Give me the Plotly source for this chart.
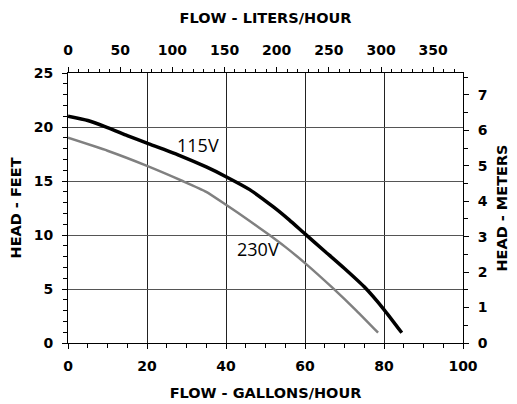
import plotly.graph_objects as go

# Data (flow in gallons/hour, head in feet)
gph_115 = [0, 5, 10, 15, 20, 28, 35, 40, 46, 52, 56, 60, 65, 70, 75, 80, 84.5]
head_115 = [21.0, 20.6, 19.95, 19.2, 18.5, 17.4, 16.3, 15.4, 14.2, 12.6, 11.4, 10.1, 8.5, 6.9, 5.2, 3.1, 0.95]
gph_230 = [0, 10, 20, 29, 35, 40, 46, 51, 55, 60, 67, 73, 78.5]
head_230 = [19.0, 17.8, 16.4, 15.0, 14.0, 12.8, 11.3, 10.0, 8.9, 7.4, 5.1, 3.0, 0.95]
series_names = ["115V", "230V"]
label_pos = [(33, 18.3), (48.2, 8.7)]

GAL_TO_L = 3.78541
FT_TO_M = 0.3048
x_max_gph = 100
y_max_ft = 25

FAM = "DejaVu Sans, Verdana, sans-serif"
tickf = dict(family=FAM, size=14, color="black", weight="bold")
titlef = dict(family=FAM, size=14.5, color="black", weight="bold")

fig = go.Figure()
fig.add_trace(go.Scatter(x=gph_115, y=head_115, mode="lines",
                         line=dict(color="black", width=3.5, shape="spline", smoothing=0.5),
                         name=series_names[0]))
fig.add_trace(go.Scatter(x=gph_230, y=head_230, mode="lines",
                         line=dict(color="#808080", width=2.5, shape="spline", smoothing=0.5),
                         name=series_names[1]))
# invisible helper trace for the secondary axes
fig.add_trace(go.Scatter(x=[0, x_max_gph * GAL_TO_L], y=[0, y_max_ft * FT_TO_M], xaxis="x2", yaxis="y2",
                         mode="markers", marker=dict(opacity=0), hoverinfo="skip", showlegend=False))

for name, (lx, ly) in zip(series_names, label_pos):
    fig.add_annotation(x=lx, y=ly, text=name, showarrow=False,
                       font=dict(family="Open Sans, sans-serif", size=18, color="black"))

fig.update_layout(
    width=509, height=396,
    margin=dict(l=60, r=54, t=65, b=61),
    paper_bgcolor="white", plot_bgcolor="white",
    showlegend=False,
    xaxis=dict(range=[0, x_max_gph], dtick=20, tick0=0, ticks="outside", ticklen=5, tickcolor="black",
               showgrid=True, gridcolor="#222", gridwidth=1, zeroline=False, automargin=False,
               showline=True, linecolor="black", linewidth=1,
               tickfont=tickf, ticklabelstandoff=5,
               minor=dict(dtick=5, ticks="outside", ticklen=4, tickcolor="black", showgrid=False),
               title=dict(text="FLOW - GALLONS/HOUR", font=titlef, standoff=15)),
    xaxis2=dict(range=[0, x_max_gph * GAL_TO_L], overlaying="x", side="top", anchor="y",
                dtick=50, tick0=0, ticks="outside", ticklen=5, tickcolor="black", automargin=False,
                showgrid=False, zeroline=False, showline=True, linecolor="black", linewidth=1,
                tickfont=tickf, ticklabelstandoff=6,
                minor=dict(dtick=10, ticks="outside", ticklen=3, tickcolor="black", showgrid=False),
                title=dict(text="FLOW - LITERS/HOUR", font=titlef, standoff=15)),
    yaxis=dict(range=[0, y_max_ft], dtick=5, tick0=0, ticks="outside", ticklen=5, tickcolor="black",
               showgrid=True, gridcolor="#555", gridwidth=1, zeroline=False, automargin=False,
               showline=True, linecolor="black", linewidth=1,
               tickfont=tickf, ticklabelstandoff=6,
               minor=dict(dtick=1, ticks="outside", ticklen=4, tickcolor="black", showgrid=False),
               title=dict(text="HEAD - FEET", font=titlef, standoff=17)),
    yaxis2=dict(range=[0, y_max_ft * FT_TO_M], overlaying="y", side="right", anchor="x",
                dtick=1, tick0=0, ticks="outside", ticklen=5, tickcolor="black", automargin=False,
                showgrid=False, zeroline=False, showline=True, linecolor="black", linewidth=1,
                tickfont=tickf, ticklabelstandoff=6,
                minor=dict(dtick=0.5, ticks="outside", ticklen=4, tickcolor="black", showgrid=False),
                title=dict(text="HEAD - METERS", font=titlef, standoff=10)),
)

fig.write_html("out.html")
